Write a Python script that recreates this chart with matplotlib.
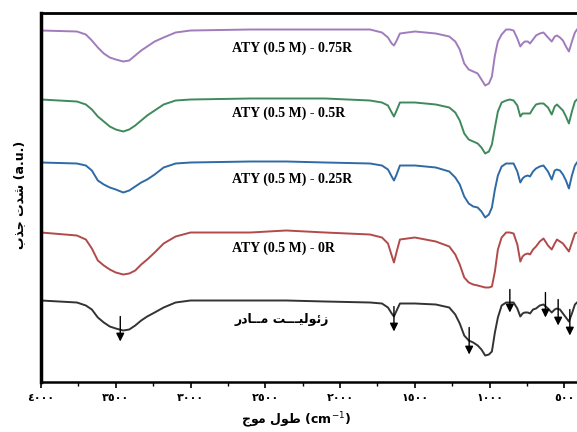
#!/usr/bin/env python
#
# FTIR spectra of the parent zeolite and the ATY treated samples
#

import matplotlib
matplotlib.use("Agg")
from matplotlib import pyplot as plt
from matplotlib.ticker import FixedLocator, MultipleLocator

wavenumber = [4000, 3760, 3700, 3660, 3620, 3580, 3540, 3500, 3450, 3410, 3370,
              3330, 3290, 3240, 3180, 3100, 3000,
              2600, 2360, 2100,
              1800, 1720, 1680, 1655, 1640, 1625, 1600,
              1500, 1360, 1270, 1230, 1200, 1170, 1140, 1110, 1080, 1055, 1030, 1005,
              985, 965, 945, 920, 890, 865, 840, 815, 795, 780, 765, 745, 730, 710,
              690, 665, 640, 610, 585, 565, 550, 530, 510, 490, 470, 450, 430, 416]

# absorption intensity (a.u., stacked)
aty_075r = [3.51, 3.50, 3.47, 3.41, 3.34, 3.28, 3.24, 3.22, 3.20, 3.21, 3.26,
            3.31, 3.35, 3.40, 3.44, 3.49, 3.51,
            3.52, 3.52, 3.52,
            3.52, 3.49, 3.44, 3.38, 3.36, 3.40, 3.48,
            3.50, 3.48, 3.45, 3.40, 3.32, 3.18, 3.12, 3.10, 3.08, 3.02, 2.96, 2.98,
            3.05, 3.26, 3.40, 3.47, 3.52, 3.52, 3.51, 3.43, 3.35, 3.38, 3.40, 3.40,
            3.38, 3.42, 3.46, 3.48, 3.49, 3.44, 3.40, 3.45, 3.46, 3.44, 3.41, 3.35,
            3.30, 3.40, 3.49, 3.52]
aty_05r = [2.82, 2.80, 2.77, 2.72, 2.65, 2.60, 2.55, 2.52, 2.50, 2.52, 2.56,
           2.61, 2.66, 2.71, 2.77, 2.81, 2.82,
           2.83, 2.83, 2.83,
           2.81, 2.79, 2.76, 2.69, 2.65, 2.70, 2.79,
           2.79, 2.77, 2.74, 2.69, 2.61, 2.48, 2.42, 2.40, 2.38, 2.34, 2.28, 2.30,
           2.37, 2.54, 2.70, 2.79, 2.81, 2.82, 2.81, 2.76, 2.65, 2.68, 2.68, 2.68,
           2.68, 2.73, 2.77, 2.78, 2.78, 2.74, 2.67, 2.75, 2.77, 2.74, 2.71, 2.65,
           2.58, 2.70, 2.80, 2.82]
aty_025r = [2.19, 2.18, 2.16, 2.11, 2.01, 1.97, 1.94, 1.92, 1.89, 1.91, 1.95,
            1.99, 2.02, 2.07, 2.14, 2.18, 2.19,
            2.20, 2.20, 2.19,
            2.18, 2.16, 2.12, 2.05, 2.01, 2.06, 2.16,
            2.16, 2.14, 2.10, 2.04, 1.97, 1.85, 1.78, 1.75, 1.74, 1.70, 1.64, 1.67,
            1.74, 1.92, 2.06, 2.15, 2.18, 2.18, 2.18, 2.10, 1.99, 2.03, 2.05, 2.06,
            2.05, 2.10, 2.13, 2.15, 2.16, 2.10, 2.02, 2.11, 2.12, 2.11, 2.07, 2.01,
            1.93, 2.06, 2.16, 2.19]
aty_0r = [1.49, 1.46, 1.42, 1.33, 1.21, 1.16, 1.12, 1.09, 1.07, 1.08, 1.11,
          1.17, 1.22, 1.29, 1.38, 1.45, 1.49,
          1.49, 1.51, 1.49,
          1.47, 1.44, 1.38, 1.26, 1.19, 1.28, 1.42,
          1.44, 1.40, 1.35, 1.27, 1.17, 1.04, 0.99, 0.97, 0.96, 0.95, 0.94, 0.94,
          0.95, 1.10, 1.32, 1.44, 1.49, 1.49, 1.48, 1.37, 1.20, 1.25, 1.27, 1.28,
          1.27, 1.32, 1.35, 1.40, 1.43, 1.36, 1.32, 1.38, 1.42, 1.40, 1.38, 1.34,
          1.30, 1.39, 1.48, 1.49]
parent = [0.81, 0.79, 0.76, 0.72, 0.64, 0.59, 0.55, 0.53, 0.51, 0.52, 0.56,
          0.61, 0.65, 0.69, 0.74, 0.79, 0.81,
          0.81, 0.81, 0.80,
          0.79, 0.78, 0.74, 0.68, 0.65, 0.70, 0.78,
          0.78, 0.77, 0.74, 0.67, 0.58, 0.46, 0.41, 0.39, 0.36, 0.32, 0.26, 0.27,
          0.30, 0.49, 0.64, 0.76, 0.79, 0.79, 0.79, 0.73, 0.65, 0.68, 0.69, 0.69,
          0.68, 0.72, 0.73, 0.76, 0.77, 0.73, 0.69, 0.72, 0.73, 0.72, 0.68, 0.64,
          0.60, 0.68, 0.77, 0.79]

# marked bands on the parent zeolite
arrow_wn = [3470, 1640, 1137, 865, 627, 542, 464]
arrow_top = [0.65, 0.75, 0.54, 0.92, 0.89, 0.82, 0.72]
arrow_tip = [0.40, 0.50, 0.27, 0.69, 0.64, 0.56, 0.46]

tick_values = [4000, 3500, 3000, 2500, 2000, 1500, 1000, 500]

# Arabic presentation forms: isolated, final, initial, medial
FORMS = {
    'ا': ('\uFE8D', '\uFE8E', None, None),
    'ب': ('\uFE8F', '\uFE90', '\uFE91', '\uFE92'),
    'ت': ('\uFE95', '\uFE96', '\uFE97', '\uFE98'),
    'ج': ('\uFE9D', '\uFE9E', '\uFE9F', '\uFEA0'),
    'د': ('\uFEA9', '\uFEAA', None, None),
    'ذ': ('\uFEAB', '\uFEAC', None, None),
    'ر': ('\uFEAD', '\uFEAE', None, None),
    'ز': ('\uFEAF', '\uFEB0', None, None),
    'ش': ('\uFEB5', '\uFEB6', '\uFEB7', '\uFEB8'),
    'ط': ('\uFEC1', '\uFEC2', '\uFEC3', '\uFEC4'),
    'ل': ('\uFEDD', '\uFEDE', '\uFEDF', '\uFEE0'),
    'م': ('\uFEE1', '\uFEE2', '\uFEE3', '\uFEE4'),
    'و': ('\uFEED', '\uFEEE', None, None),
    'ئ': ('\uFE89', '\uFE8A', '\uFE8B', '\uFE8C'),
    'ی': ('\uFEF1', '\uFEF2', '\uFEF3', '\uFEF4'),
    'ـ': ('ـ', 'ـ', 'ـ', 'ـ'),
}


def shape_fa(text):
    '''Joins the letters and reverses them, since matplotlib lays out left to right'''
    out = []
    for i, ch in enumerate(text):
        if ch not in FORMS:
            out.append(ch)
            continue
        prev = text[i-1] if i > 0 else ''
        nxt = text[i+1] if i+1 < len(text) else ''
        iso, fin, ini, med = FORMS[ch]
        joins_prev = prev in FORMS and FORMS[prev][2] is not None
        joins_next = ini is not None and nxt in FORMS
        if joins_prev and joins_next:
            out.append(med)
        elif joins_prev:
            out.append(fin)
        elif joins_next:
            out.append(ini)
        else:
            out.append(iso)
    return ''.join(reversed(out))


def to_arabic_digits(v):
    return str(v).translate(str.maketrans('0123456789', '٠١٢٣٤٥٦٧٨٩'))


fig = plt.figure(figsize=(5.77, 4.32), dpi=100)
ax = fig.add_axes([41/577, 1 - 381.5/432, 1 - 41/577, 368.5/432])

series = [(aty_075r, '#a07cbc', 'ATY (0.5 M) - 0.75R', 3.335),
          (aty_05r, '#3f8a5c', 'ATY (0.5 M) - 0.5R', 2.685),
          (aty_025r, '#2e6aa6', 'ATY (0.5 M) - 0.25R', 2.025),
          (aty_0r, '#b24a4a', 'ATY (0.5 M) - 0R', 1.335)]
for vals, col, label, ylab in series:
    ax.plot(wavenumber, vals, color=col, lw=1.4)
    ax.text(2720, ylab, label, ha='left', va='center', fontsize=10,
            fontweight='bold', family='Liberation Serif')

ax.plot(wavenumber, parent, color='#333333', lw=1.4)
ax.text(2390, 0.615, shape_fa('زئولیـــت مــادر'), ha='center', va='center',
        fontsize=9, fontweight='bold', family='DejaVu Sans')

for wn, top, tip in zip(arrow_wn, arrow_top, arrow_tip):
    ax.annotate('', xy=(wn, tip), xytext=(wn, top),
                arrowprops=dict(arrowstyle='-|>', color='black', lw=1.0,
                                mutation_scale=12, shrinkA=0, shrinkB=0))

ax.set_xlim(4000, 416)
ax.set_ylim(0, 3.685)
ax.xaxis.set_major_locator(FixedLocator(tick_values))
ax.xaxis.set_minor_locator(MultipleLocator(250))
ax.set_xticklabels([to_arabic_digits(v) for v in tick_values],
                   fontsize=8, fontweight='bold', family='DejaVu Sans')
ax.tick_params(axis='x', which='major', direction='out', length=4, width=1.2, pad=4)
ax.tick_params(axis='x', which='minor', direction='out', length=3, width=1.0)
ax.set_yticks([])

ax.spines['right'].set_visible(False)
ax.spines['left'].set_linewidth(2.5)
ax.spines['top'].set_linewidth(2.0)
ax.spines['bottom'].set_linewidth(1.8)

fig.text(296/577, 1 - 420/432, shape_fa('طول موج') + ' (cm$^{-1}$)',
         ha='center', va='center', fontsize=9, fontweight='bold')
fig.text(20/577, 1 - 195/432, shape_fa('شدت جذب') + ' (a.u.)', rotation=90,
         ha='center', va='center', fontsize=9, fontweight='bold')

fig.savefig("out.png", dpi=100)
